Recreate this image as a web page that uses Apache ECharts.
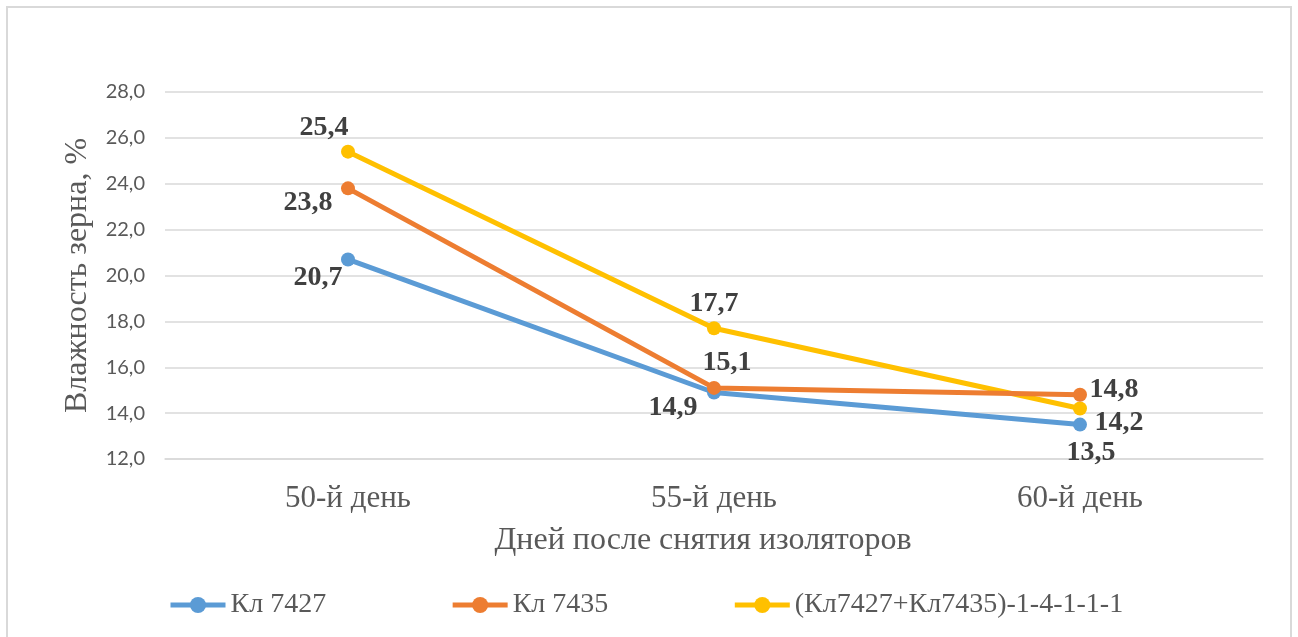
<!DOCTYPE html>
<html>
<head>
<meta charset="utf-8">
<script src="https://cdn.jsdelivr.net/npm/echarts@6/dist/echarts.min.js"></script>
<style>
  html, body { margin: 0; padding: 0; background: #fff; }
  #chart { width: 1298px; height: 637px; }
</style>
</head>
<body>
<div id="chart"></div>
<script>
// Grain moisture after removal of isolators
const categories = ['50-й день', '55-й день', '60-й день'];
const seriesNames = ['Кл 7427', 'Кл 7435', '(Кл7427+Кл7435)-1-4-1-1-1'];
const kl7427 = [20.7, 14.9, 13.5];
const kl7435 = [23.8, 15.1, 14.8];
const hybrid = [25.4, 17.7, 14.2];
const colors = ['#5B9BD5', '#ED7D31', '#FFC000'];

// label offsets (px) relative to each point, per series
const labelOffsets = [
  [[-30, 18], [-41, 15], [11, 28]],
  [[-40, 14], [13, -25], [34, -5]],
  [[-24, -24], [0, -24], [39, 14]]
];

const fmt = v => v.toFixed(1).replace('.', ',');
const serif = '"Liberation Serif", "Times New Roman", serif';

function makeSeries(name, values, idx) {
  return {
    name: name,
    type: 'line',
    data: values.map((v, i) => ({
      value: v,
      label: { offset: labelOffsets[idx][i] }
    })),
    color: colors[idx],
    symbol: 'circle',
    symbolSize: 14,
    lineStyle: { width: 5, color: colors[idx] },
    itemStyle: { color: colors[idx] },
    z: 2 + (idx === 1 ? 1 : 0),
    label: {
      show: true,
      position: 'inside',
      align: 'center',
      verticalAlign: 'middle',
      formatter: p => fmt(p.value),
      fontFamily: serif,
      fontWeight: 'bold',
      fontSize: 28,
      color: '#404040'
    }
  };
}

const chart = echarts.init(document.getElementById('chart'), null, { renderer: 'canvas' });
chart.setOption({
  animation: false,
  backgroundColor: '#ffffff',
  graphic: [{
    type: 'rect',
    shape: { x: 7, y: 7, width: 1284, height: 700 },
    style: { fill: 'none', stroke: '#d9d9d9', lineWidth: 2 },
    silent: true
  }],
  grid: { left: 165, right: 35, top: 92, bottom: 178 },
  legend: {
    left: 163,
    top: 586,
    itemWidth: 55,
    itemHeight: 20,
    itemGap: 124,
    lineStyle: { width: 5 },
    textStyle: {
      fontFamily: serif,
      fontSize: 28,
      color: '#595959'
    },
    data: seriesNames
  },
  xAxis: {
    type: 'category',
    data: categories,
    boundaryGap: true,
    axisLine: { show: true, lineStyle: { color: '#d9d9d9', width: 1.5 } },
    axisTick: { show: false },
    axisLabel: {
      margin: 24,
      fontFamily: serif,
      fontSize: 31,
      color: '#595959'
    },
    name: 'Дней после снятия изоляторов',
    nameLocation: 'middle',
    nameGap: 66,
    nameTextStyle: {
      fontFamily: serif,
      fontSize: 32,
      color: '#595959',
      padding: [0, 22, 0, 0]
    }
  },
  yAxis: {
    type: 'value',
    min: 12,
    max: 28,
    interval: 2,
    axisLine: { show: false },
    axisTick: { show: false },
    splitLine: { lineStyle: { color: '#d9d9d9', width: 1.5 } },
    axisLabel: {
      margin: 20,
      formatter: v => fmt(v),
      fontFamily: 'Lato, "Liberation Sans", sans-serif',
      fontSize: 20,
      color: '#595959'
    },
    name: 'Влажность зерна, %',
    nameLocation: 'middle',
    nameGap: 71,
    nameTextStyle: {
      fontFamily: serif,
      fontSize: 32,
      color: '#595959'
    }
  },
  series: [
    makeSeries(seriesNames[0], kl7427, 0),
    makeSeries(seriesNames[1], kl7435, 1),
    makeSeries(seriesNames[2], hybrid, 2)
  ]
});
</script>
</body>
</html>
